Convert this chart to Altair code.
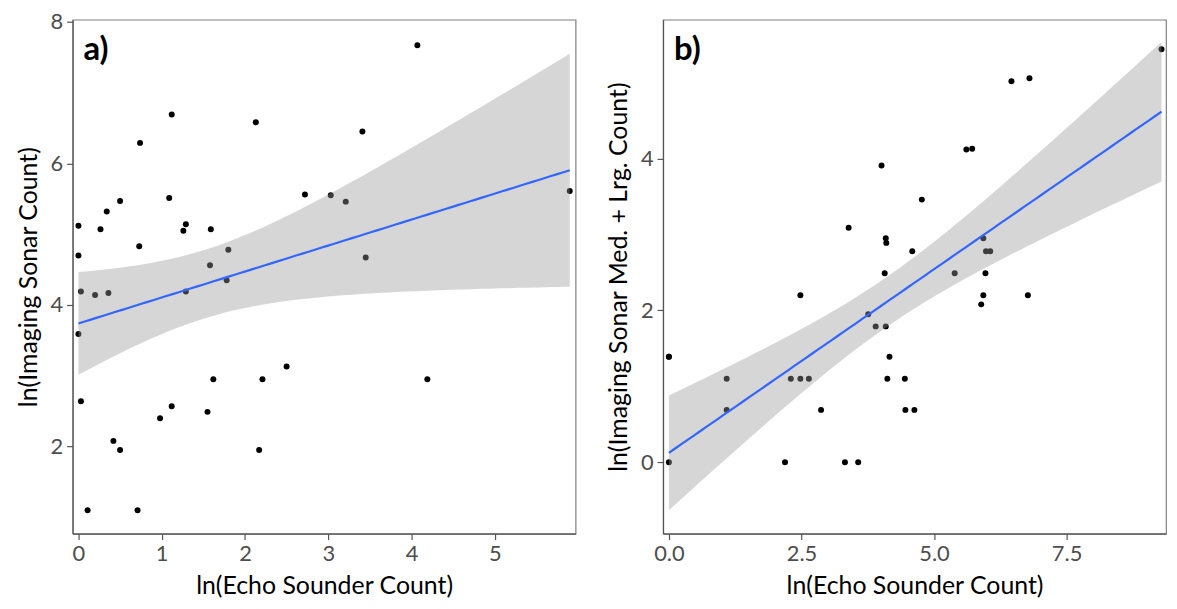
import numpy as np
import pandas as pd
import altair as alt

# ---- Panel a data: ln(Echo Sounder Count) vs ln(Imaging Sonar Count)
a_x = [1.12, 0.74, 2.13, 2.72, 3.03, 3.21, 0.00, 0.00, 0.265, 0.34,
       0.50, 1.09, 1.29, 1.26, 1.59, 0.73, 1.58, 1.80, 1.78, 0.03,
       0.20, 0.36, 1.29, 0.00, 0.03, 0.11, 0.71, 0.42, 0.50, 0.98,
       1.12, 1.55, 1.62, 2.17, 2.21, 2.50, 4.07, 3.41, 3.45, 5.90,
       4.19]
a_y = [6.69, 6.29, 6.58, 5.56, 5.55, 5.46, 5.12, 4.70, 5.07, 5.32,
       5.47, 5.51, 5.14, 5.05, 5.07, 4.83, 4.56, 4.78, 4.35, 4.19,
       4.14, 4.17, 4.19, 3.59, 2.64, 1.10, 1.10, 2.08, 1.95, 2.40,
       2.57, 2.49, 2.95, 1.95, 2.95, 3.13, 7.67, 6.45, 4.67, 5.61,
       2.95]

# ---- Panel b data: ln(Echo Sounder Count) vs ln(Imaging Sonar Med. + Lrg. Count)
b_x = [0.00, 0.00, 0.00, 1.09, 1.09, 2.19, 2.30, 2.48, 2.64, 2.48,
       2.87, 3.32, 3.57, 3.39, 3.76, 3.90, 4.09, 4.01, 4.09, 4.10,
       4.07, 4.16, 4.12, 4.45, 4.46, 4.63, 4.59, 4.77, 5.39, 5.61,
       5.72, 5.93, 5.98, 6.06, 5.97, 5.93, 5.89, 6.46, 6.80, 6.77,
       9.29]
b_y = [1.39, 1.39, 0.00, 1.10, 0.69, 0.00, 1.10, 1.10, 1.10, 2.20,
       0.69, 0.00, 0.00, 3.09, 1.95, 1.79, 1.79, 3.91, 2.95, 2.89,
       2.49, 1.39, 1.10, 1.10, 0.69, 0.69, 2.78, 3.46, 2.49, 4.12,
       4.13, 2.95, 2.78, 2.78, 2.49, 2.20, 2.08, 5.02, 5.06, 2.20,
       5.44]

a_xticks = [0, 1, 2, 3, 4, 5]
a_yticks = [2, 4, 6, 8]
b_xticks = [0, 2.5, 5, 7.5]
b_yticks = [0, 2, 4]

X_TITLE = "ln(Echo Sounder Count)"
A_Y_TITLE = "ln(Imaging Sonar Count)"
B_Y_TITLE = "ln(Imaging Sonar Med. + Lrg. Count)"

# 97.5% Student-t quantiles for the 95% confidence band (df = n - 2)
T975 = {38: 2.0244, 39: 2.0227}

FONT = "Lato"


def lm_band(xs, ys, n_grid=80):
    x = np.asarray(xs, float)
    y = np.asarray(ys, float)
    n = len(x)
    xm = x.mean()
    sxx = ((x - xm) ** 2).sum()
    slope = ((x - xm) * (y - y.mean())).sum() / sxx
    icpt = y.mean() - slope * xm
    resid = y - (icpt + slope * x)
    s = np.sqrt((resid ** 2).sum() / (n - 2))
    g = np.linspace(x.min(), x.max(), n_grid)
    fit = icpt + slope * g
    se = s * np.sqrt(1.0 / n + (g - xm) ** 2 / sxx)
    t = T975[n - 2]
    return pd.DataFrame({"x": g, "fit": fit, "lo": fit - t * se, "hi": fit + t * se})


def panel(xs, ys, xdom, ydom, xticks, yticks, xfmt, ytitle, label):
    pts = pd.DataFrame({"x": xs, "y": ys})
    band = lm_band(xs, ys)
    xsc = alt.Scale(domain=xdom, nice=False, zero=False)
    ysc = alt.Scale(domain=ydom, nice=False, zero=False)
    xax = alt.Axis(values=xticks, format=xfmt, title=X_TITLE)
    yax = alt.Axis(values=yticks, format="d", title=ytitle)

    p = alt.Chart(pts).mark_circle(size=36, color="black", opacity=1).encode(
        x=alt.X("x:Q", scale=xsc, axis=xax),
        y=alt.Y("y:Q", scale=ysc, axis=yax),
    )
    r = alt.Chart(band).mark_area(color="#999999", opacity=0.4).encode(
        x=alt.X("x:Q", scale=xsc, axis=xax),
        y=alt.Y("lo:Q", scale=ysc, axis=yax),
        y2="hi:Q",
    )
    ln = alt.Chart(band).mark_line(color="#3366FF", strokeWidth=2.2).encode(
        x=alt.X("x:Q", scale=xsc, axis=xax),
        y=alt.Y("fit:Q", scale=ysc, axis=yax),
    )
    t = alt.Chart(pd.DataFrame({"t": [label]})).mark_text(
        font=FONT, fontSize=33, fontWeight="bold", align="left",
        baseline="alphabetic", color="black",
    ).encode(text="t:N", x=alt.value(11), y=alt.value(41))
    return alt.layer(p, r, ln, t).properties(width=506, height=517)


pa = panel(a_x, a_y, [-0.07, 5.97], [0.77, 8.03], a_xticks, a_yticks, "d",
           A_Y_TITLE, "a)")
pb = panel(b_x, b_y, [-0.11, 9.375], [-0.94, 5.83], b_xticks, b_yticks, ".1f",
           B_Y_TITLE, "b)")

chart = alt.hconcat(pa, pb, spacing=29).properties(
    padding={"left": 7, "top": 0, "right": 2, "bottom": 0}
).configure_view(
    stroke="#7F7F7F", strokeWidth=1.2
).configure_axis(
    grid=False,
    domainColor="#555555", domainWidth=1.2,
    tickColor="#555555", tickSize=6, tickWidth=1.2,
    labelFont=FONT, labelFontSize=22, labelColor="#4D4D4D", labelPadding=4,
    titleFont=FONT, titleFontSize=25, titleFontWeight="normal", titleColor="black",
    titlePadding=9,
)

chart.save("out.html", embed_options={"renderer": "svg", "actions": False})
